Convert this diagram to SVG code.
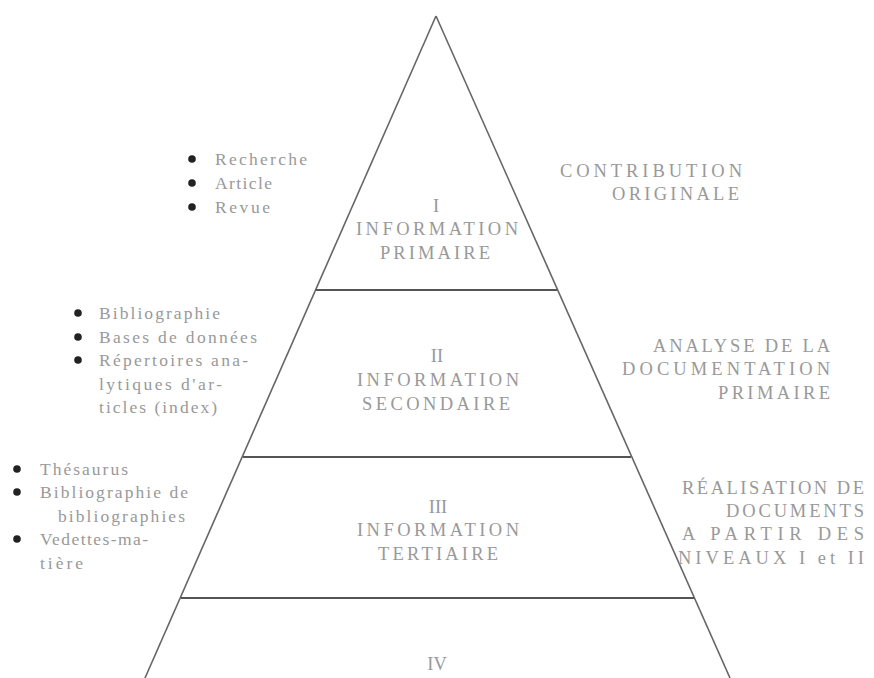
<svg xmlns="http://www.w3.org/2000/svg" width="874" height="678" viewBox="0 0 874 678">
<style>
.edge{stroke:#666;stroke-width:1.6;fill:none}
.sep{stroke:#555;stroke-width:2.2;fill:none}
.cap{font-family:"Liberation Serif","Times New Roman",serif;font-size:18.5px;fill:#999}
.c{text-anchor:middle}
.li{font-family:"Liberation Serif","Times New Roman",serif;font-size:17.5px;fill:#999}
.dot{fill:#222}
</style>
<rect width="874" height="678" fill="#fff"/>
<g id="pyramid">
<line class="edge" x1="436" y1="16" x2="145" y2="678"/>
<line class="edge" x1="436" y1="16" x2="730" y2="678"/>
</g>
<g id="connectors">
<line class="sep" x1="316" y1="290" x2="557" y2="290"/>
<line class="sep" x1="243" y1="457" x2="631" y2="457"/>
<line class="sep" x1="181" y1="598" x2="694" y2="598"/>
</g>
<g id="level1">
<text class="cap c" x="436" y="212">I</text>
<text class="cap" x="356" y="235" textLength="162" lengthAdjust="spacing">INFORMATION</text>
<text class="cap" x="380" y="259" textLength="110" lengthAdjust="spacing">PRIMAIRE</text>
</g>
<g id="level2">
<text class="cap c" x="437" y="362">II</text>
<text class="cap" x="357" y="386" textLength="162" lengthAdjust="spacing">INFORMATION</text>
<text class="cap" x="362" y="410" textLength="148" lengthAdjust="spacing">SECONDAIRE</text>
</g>
<g id="level3">
<text class="cap c" x="438" y="513">III</text>
<text class="cap" x="357" y="536" textLength="162" lengthAdjust="spacing">INFORMATION</text>
<text class="cap" x="378" y="560" textLength="120" lengthAdjust="spacing">TERTIAIRE</text>
</g>
<g id="level4">
<text class="cap c" x="437" y="670">IV</text>
</g>
<g id="right1">
<text class="cap" x="560" y="177" textLength="182" lengthAdjust="spacing">CONTRIBUTION</text>
<text class="cap" x="612" y="200" textLength="127" lengthAdjust="spacing">ORIGINALE</text>
</g>
<g id="right2">
<text class="cap" x="653" y="352" textLength="177" lengthAdjust="spacing">ANALYSE DE LA</text>
<text class="cap" x="622" y="375" textLength="208" lengthAdjust="spacing">DOCUMENTATION</text>
<text class="cap" x="718" y="399" textLength="112" lengthAdjust="spacing">PRIMAIRE</text>
</g>
<g id="right3">
<text class="cap" x="682" y="494" textLength="182" lengthAdjust="spacing">RÉALISATION DE</text>
<text class="cap" x="726" y="517" textLength="138" lengthAdjust="spacing">DOCUMENTS</text>
<text class="cap" x="682" y="540" textLength="182" lengthAdjust="spacing">A PARTIR DES</text>
<text class="cap" x="678" y="564" textLength="186" lengthAdjust="spacing">NIVEAUX I et II</text>
</g>
<g id="left1">
<circle class="dot" cx="192" cy="159" r="3.8"/>
<circle class="dot" cx="192" cy="183" r="3.8"/>
<circle class="dot" cx="192" cy="207" r="3.8"/>
<text class="li" x="215" y="165" textLength="92" lengthAdjust="spacing">Recherche</text>
<text class="li" x="215" y="189" textLength="57" lengthAdjust="spacing">Article</text>
<text class="li" x="215" y="213" textLength="55" lengthAdjust="spacing">Revue</text>
</g>
<g id="left2">
<circle class="dot" cx="78" cy="313" r="3.8"/>
<circle class="dot" cx="78" cy="337" r="3.8"/>
<circle class="dot" cx="78" cy="360" r="3.8"/>
<text class="li" x="99" y="319" textLength="121" lengthAdjust="spacing">Bibliographie</text>
<text class="li" x="99" y="343" textLength="158" lengthAdjust="spacing">Bases de données</text>
<text class="li" x="99" y="366" textLength="149" lengthAdjust="spacing">Répertoires ana-</text>
<text class="li" x="99" y="390" textLength="123" lengthAdjust="spacing">lytiques d'ar-</text>
<text class="li" x="99" y="413" textLength="118" lengthAdjust="spacing">ticles (index)</text>
</g>
<g id="left3">
<circle class="dot" cx="17" cy="469" r="3.8"/>
<circle class="dot" cx="17" cy="492" r="3.8"/>
<circle class="dot" cx="17" cy="539" r="3.8"/>
<text class="li" x="40" y="475" textLength="88" lengthAdjust="spacing">Thésaurus</text>
<text class="li" x="40" y="498" textLength="148" lengthAdjust="spacing">Bibliographie de</text>
<text class="li" x="58" y="522" textLength="127" lengthAdjust="spacing">bibliographies</text>
<text class="li" x="40" y="545" textLength="108" lengthAdjust="spacing">Vedettes-ma-</text>
<text class="li" x="40" y="569" textLength="43" lengthAdjust="spacing">tière</text>
</g>
</svg>
